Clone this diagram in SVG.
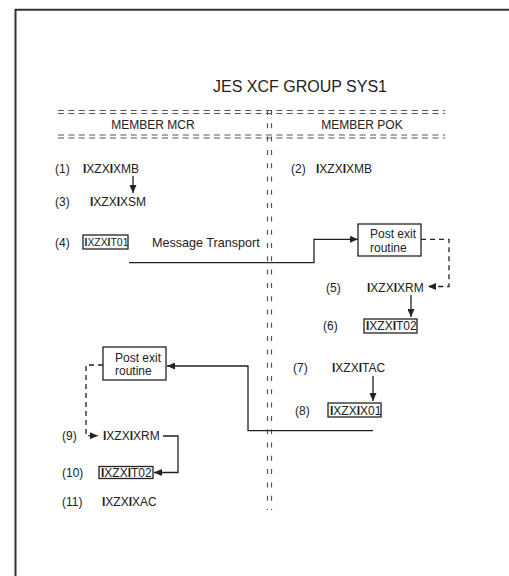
<svg xmlns="http://www.w3.org/2000/svg" width="509" height="576" viewBox="0 0 509 576">
<defs>
<marker id="ah" markerUnits="userSpaceOnUse" markerWidth="8" markerHeight="7" refX="8" refY="3.5" orient="auto">
<path d="M0,0 L8,3.5 L0,7 z" fill="#222"/>
</marker>
<style>
text{font-family:"Liberation Sans",Arial,sans-serif;font-size:12px;fill:#222}
.b{font-weight:bold}
.frame{fill:none;stroke:#333;stroke-width:2}
.hd{stroke:#555;stroke-width:1;stroke-dasharray:6 4.4;fill:none}
.vd{stroke:#555;stroke-width:1.2;stroke-dasharray:5 8.3;fill:none}
.c{fill:none;stroke:#222;stroke-width:1.3}
.d{fill:none;stroke:#222;stroke-width:1.3;stroke-dasharray:5 4}
.box{fill:#fff;stroke:#222;stroke-width:1.3}
</style>
</defs>
<rect width="509" height="576" fill="#fff"/>
<path class="frame" d="M15.5,576 V9.8 H509"/>
<g id="title">
<text x="300" y="92" text-anchor="middle" style="font-size:16px">JES XCF GROUP SYS1</text>
</g>
<g id="separators">
<path class="hd" d="M58,110.5 H445 M58,113.5 H445 M58,135 H445 M58,138 H445"/>
<path class="vd" d="M267.5,110 V510 M271.5,110 V510"/>
</g>
<g id="member-mcr"><text x="153" y="129" text-anchor="middle">MEMBER MCR</text></g>
<g id="member-pok"><text x="362" y="129" text-anchor="middle">MEMBER POK</text></g>

<g id="n1"><text x="55" y="173">(1)</text><text x="83" y="173"><tspan class="b">I</tspan>XZX<tspan class="b">I</tspan>XMB</text></g>
<g id="n3"><text x="55" y="206">(3)</text><text x="90" y="206"><tspan class="b">I</tspan>XZX<tspan class="b">I</tspan>XSM</text></g>
<g id="n4"><text x="55" y="246.5">(4)</text><rect class="box" x="83" y="235" width="45" height="14"/><text x="84.5" y="246" style="font-size:10.4px"><tspan class="b">I</tspan>XZX<tspan class="b">I</tspan>T01</text></g>
<g id="msg"><text x="152" y="246.5" style="font-size:12.6px">Message Transport</text></g>
<g id="n2"><text x="291" y="173">(2)</text><text x="316" y="173"><tspan class="b">I</tspan>XZX<tspan class="b">I</tspan>XMB</text></g>
<g id="post-pok"><rect class="box" x="358" y="224" width="63" height="32"/><text x="370" y="237.5">Post exit</text><text x="370" y="251.5">routine</text></g>
<g id="n5"><text x="326" y="291.5">(5)</text><text x="367" y="291.5"><tspan class="b">I</tspan>XZX<tspan class="b">I</tspan>XRM</text></g>
<g id="n6"><text x="323" y="330">(6)</text><rect class="box" x="364" y="319" width="53" height="14"/><text x="366" y="330"><tspan class="b">I</tspan>XZX<tspan class="b">I</tspan>T02</text></g>
<g id="n7"><text x="293" y="371.5">(7)</text><text x="332" y="371.5"><tspan class="b">I</tspan>XZX<tspan class="b">I</tspan>TAC</text></g>
<g id="n8"><text x="295" y="415">(8)</text><rect class="box" x="328" y="403" width="53" height="14"/><text x="330" y="415"><tspan class="b">I</tspan>XZX<tspan class="b">I</tspan>X01</text></g>
<g id="post-mcr"><rect class="box" x="103" y="347" width="63" height="33"/><text x="115" y="361.5">Post exit</text><text x="115" y="375">routine</text></g>
<g id="n9"><text x="62" y="440">(9)</text><text x="103" y="440"><tspan class="b">I</tspan>XZX<tspan class="b">I</tspan>XRM</text></g>
<g id="n10"><text x="62" y="477">(10)</text><rect class="box" x="99" y="466.5" width="54" height="12"/><text x="101" y="477"><tspan class="b">I</tspan>XZX<tspan class="b">I</tspan>T02</text></g>
<g id="n11"><text x="62" y="505.5">(11)</text><text x="102" y="505.5"><tspan class="b">I</tspan>XZX<tspan class="b">I</tspan>XAC</text></g>

<g id="connectors">
<path class="c" d="M133,176 V193" marker-end="url(#ah)"/>
<path class="c" d="M129,262.7 H314 V239.3 H358" marker-end="url(#ah)"/>
<path class="d" d="M421,239.3 H449 V286.5 H428" marker-end="url(#ah)"/>
<path class="c" d="M411,295 V317" marker-end="url(#ah)"/>
<path class="c" d="M373,376 V401" marker-end="url(#ah)"/>
<path class="c" d="M373,430.7 H248 V366 H167" marker-end="url(#ah)"/>
<path class="d" d="M103,365 H86 V435.7 H98" marker-end="url(#ah)"/>
<path class="c" d="M163,436 H178 V472.5 H154" marker-end="url(#ah)"/>
</g>
</svg>
